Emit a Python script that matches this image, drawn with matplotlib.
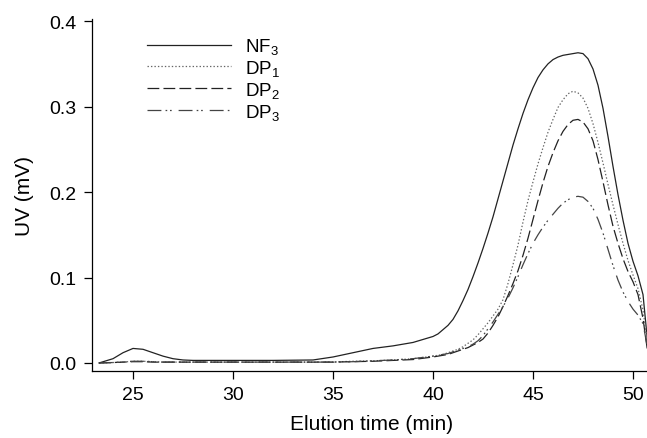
import numpy as np
import matplotlib
matplotlib.use("Agg")
import matplotlib.pyplot as plt

plt.rcParams['font.family'] = ['Liberation Sans', 'DejaVu Sans']
plt.rcParams['mathtext.default'] = 'regular'
plt.rcParams['lines.scale_dashes'] = False

# elution time grid (min)
t = [23.3, 24, 24.5, 25, 25.5, 26, 26.5, 27, 27.5, 28, 30, 32, 34, 35, 36, 37, 38, 39,
     40, 40.25, 40.5, 40.75, 41, 41.25, 41.5, 41.75, 42, 42.25, 42.5, 42.75,
     43, 43.25, 43.5, 43.75, 44, 44.25, 44.5, 44.75, 45, 45.25, 45.5, 45.75,
     46, 46.25, 46.5, 46.75, 47, 47.25, 47.5, 47.75, 48, 48.25, 48.5, 48.75,
     49, 49.25, 49.5, 49.75, 50, 50.25, 50.5, 50.75, 51]

nf3 = [0.0, 0.005, 0.012, 0.017, 0.016, 0.012, 0.008, 0.005, 0.0035, 0.003, 0.003, 0.003,
       0.0035, 0.007, 0.012, 0.017, 0.020, 0.024,
       0.031, 0.034, 0.039, 0.044, 0.051, 0.061, 0.073, 0.086, 0.101, 0.117, 0.134, 0.152,
       0.171, 0.192, 0.213, 0.234, 0.255, 0.274, 0.292, 0.308, 0.322, 0.334, 0.343, 0.350,
       0.355, 0.358, 0.360, 0.361, 0.362, 0.363, 0.362, 0.356, 0.344, 0.325, 0.298, 0.265,
       0.230, 0.197, 0.167, 0.140, 0.119, 0.102, 0.080, 0.020, 0.0]
dp1 = [0.0, 0.0005, 0.001, 0.002, 0.002, 0.0015, 0.001, 0.001, 0.001, 0.001, 0.001, 0.001,
       0.001, 0.0012, 0.002, 0.0025, 0.0035, 0.005,
       0.008, 0.009, 0.010, 0.012, 0.014, 0.016, 0.019, 0.023, 0.027, 0.033, 0.040, 0.047,
       0.055, 0.063, 0.074, 0.093, 0.115, 0.138, 0.165, 0.190, 0.212, 0.233, 0.252, 0.270,
       0.285, 0.299, 0.308, 0.315, 0.318, 0.316, 0.310, 0.298, 0.280, 0.258, 0.234, 0.209,
       0.185, 0.162, 0.140, 0.120, 0.103, 0.087, 0.062, 0.020, 0.0]
dp2 = [0.0, 0.0005, 0.001, 0.0015, 0.0015, 0.001, 0.001, 0.001, 0.001, 0.001, 0.001, 0.001,
       0.001, 0.001, 0.0015, 0.002, 0.003, 0.004,
       0.007, 0.008, 0.009, 0.010, 0.012, 0.014, 0.016, 0.018, 0.021, 0.024, 0.028, 0.035,
       0.044, 0.054, 0.066, 0.079, 0.093, 0.108, 0.126, 0.146, 0.168, 0.190, 0.211, 0.230,
       0.246, 0.260, 0.271, 0.279, 0.284, 0.285, 0.282, 0.274, 0.260, 0.238, 0.212, 0.185,
       0.160, 0.140, 0.122, 0.107, 0.095, 0.080, 0.052, 0.010, 0.0]
dp3 = [0.0, 0.0005, 0.001, 0.002, 0.002, 0.0015, 0.001, 0.001, 0.001, 0.001, 0.001, 0.001,
       0.001, 0.001, 0.0015, 0.0025, 0.0035, 0.005,
       0.008, 0.009, 0.010, 0.011, 0.013, 0.015, 0.017, 0.019, 0.022, 0.026, 0.032, 0.040,
       0.048, 0.057, 0.066, 0.076, 0.088, 0.101, 0.115, 0.128, 0.140, 0.150, 0.159, 0.167,
       0.174, 0.181, 0.187, 0.191, 0.194, 0.195, 0.194, 0.189, 0.181, 0.168, 0.152, 0.133,
       0.114, 0.097, 0.083, 0.072, 0.063, 0.056, 0.046, 0.015, 0.0]

labels = ['NF$_3$', 'DP$_1$', 'DP$_2$', 'DP$_3$']

fig = plt.figure(figsize=(6.47, 4.39), dpi=100)
ax = fig.add_axes([92/647, 1 - 372/439, 1 - 92/647, (372 - 20)/439])

ax.plot(t, nf3, color='#222222', lw=0.9, label=labels[0])
ax.plot(t, dp1, color='#666666', lw=0.9, dashes=(1, 1.5), label=labels[1])
ax.plot(t, dp2, color='#222222', lw=0.9, dashes=(8.5, 3), label=labels[2])
ax.plot(t, dp3, color='#444444', lw=0.9, dashes=(10, 3, 1.2, 2, 1.2, 5), label=labels[3])

ax.set_xlim(22.95, 50.7)
ax.set_ylim(-0.0094, 0.4025)
ax.set_xticks([25, 30, 35, 40, 45, 50])
ax.set_yticks([0.0, 0.1, 0.2, 0.3, 0.4])
ax.set_yticklabels(['0.0', '0.1', '0.2', '0.3', '0.4'])
ax.spines['top'].set_visible(False)
ax.spines['right'].set_visible(False)
ax.tick_params(direction='out', length=6, width=0.9, labelsize=14, pad=5)
for s in ['left', 'bottom']:
    ax.spines[s].set_linewidth(0.9)

ax.set_xlabel('Elution time (min)', fontsize=15)
ax.set_ylabel('UV (mV)', fontsize=15)
ax.xaxis.set_label_coords(0.503, -0.123)
ax.yaxis.set_label_coords(-0.104, 0.5)

ax.legend(loc='upper left', bbox_to_anchor=(0.083, 0.978), frameon=False, fontsize=13.5,
          handlelength=4.43, handletextpad=0.75, labelspacing=0.1, borderpad=0)

plt.savefig('out.png', dpi=100)
